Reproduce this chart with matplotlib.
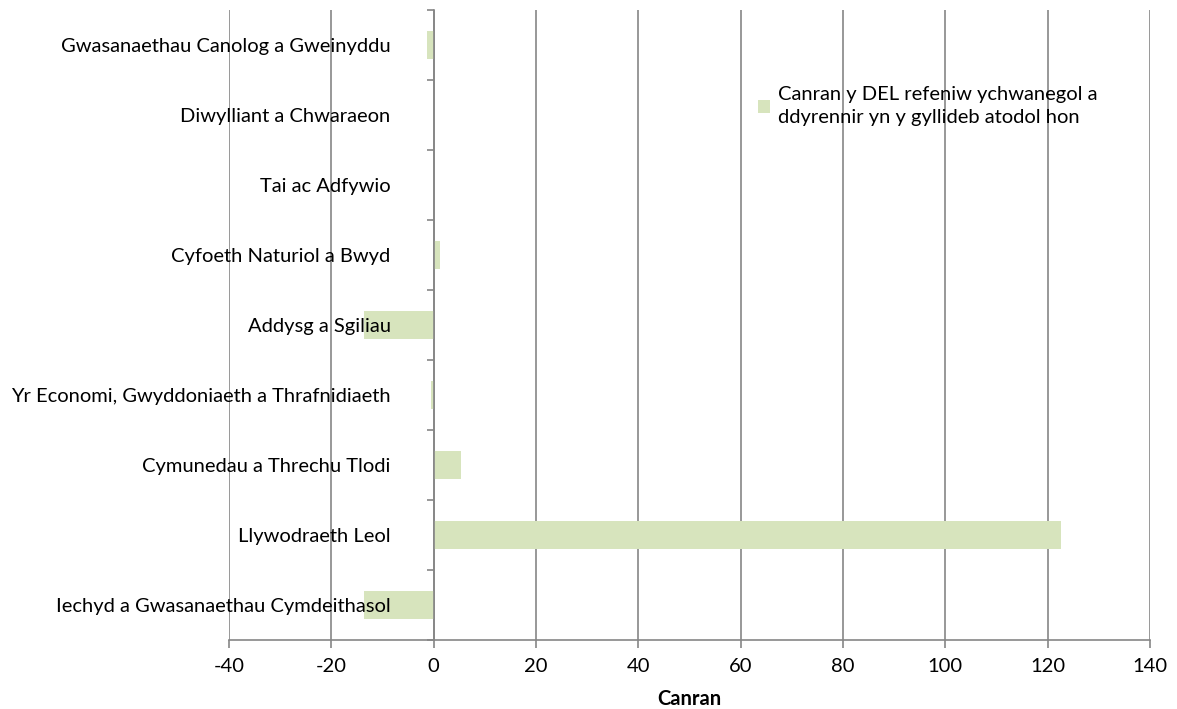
import numpy as np
import matplotlib.pyplot as plt

plt.rcParams['font.family'] = ['Lato', 'DejaVu Sans']

# Categories listed bottom to top, as drawn on the y axis
categories = [
    'Iechyd a Gwasanaethau Cymdeithasol',
    'Llywodraeth Leol',
    'Cymunedau a Threchu Tlodi',
    'Yr Economi, Gwyddoniaeth a Thrafnidiaeth',
    'Addysg a Sgiliau',
    'Cyfoeth Naturiol a Bwyd',
    'Tai ac Adfywio',
    'Diwylliant a Chwaraeon',
    'Gwasanaethau Canolog a Gweinyddu',
]
values = [-13.7, 122.7, 5.3, -0.6, -13.7, 1.2, 0.0, 0.0, -1.3]
series_label = 'Canran y DEL refeniw ychwanegol a\nddyrennir yn y gyllideb atodol hon'
xticks = [-40, -20, 0, 20, 40, 60, 80, 100, 120, 140]

bar_color = '#D7E4BD'
axis_color = '#868686'
fs = 14.5

fig = plt.figure(figsize=(11.77, 7.09), dpi=100)
ax = fig.add_axes([229 / 1177, 69 / 709, 921 / 1177, 630 / 709])

y = np.arange(len(categories))
ax.barh(y, values, height=0.4, color=bar_color, label=series_label, zorder=2)

ax.set_xlim(-40, 140)
ax.set_ylim(-0.5, len(categories) - 0.5)
ax.set_xticks(xticks)
ax.set_xticklabels([str(t) for t in xticks], fontsize=fs)
ax.grid(axis='x', color=axis_color, linewidth=1.2)

# gridlines under the bars, category labels over them
ax.xaxis.set_zorder(0.5)
ax.yaxis.set_zorder(3)

# y axis crosses at zero, labels sit left of it
ax.spines['left'].set_position(('data', 0))
ax.spines['left'].set_color(axis_color)
ax.spines['left'].set_linewidth(1.2)
ax.spines['left'].set_zorder(3)
ax.spines['bottom'].set_color(axis_color)
ax.spines['bottom'].set_linewidth(1.2)
ax.spines['top'].set_visible(False)
ax.spines['right'].set_visible(False)

ax.set_yticks(y)
ax.set_yticklabels(categories, fontsize=fs)
ax.set_yticks(np.arange(-0.5, len(categories), 1), minor=True)
ax.tick_params(axis='y', which='major', length=0, pad=31)
ax.tick_params(axis='y', which='minor', length=5, color=axis_color, width=1.2)
ax.tick_params(axis='x', length=6, color=axis_color, width=1.2, pad=7)

ax.set_xlabel('Canran', fontsize=fs, fontweight='bold', labelpad=10)

leg = ax.legend(loc='upper left', bbox_to_anchor=(0.566, 0.892), frameon=False,
                fontsize=fs, handlelength=0.6, handleheight=0.6, handletextpad=0.4,
                borderaxespad=0)
for t in leg.get_texts():
    t.set_linespacing(1.45)

fig.savefig('out.png', dpi=100)
